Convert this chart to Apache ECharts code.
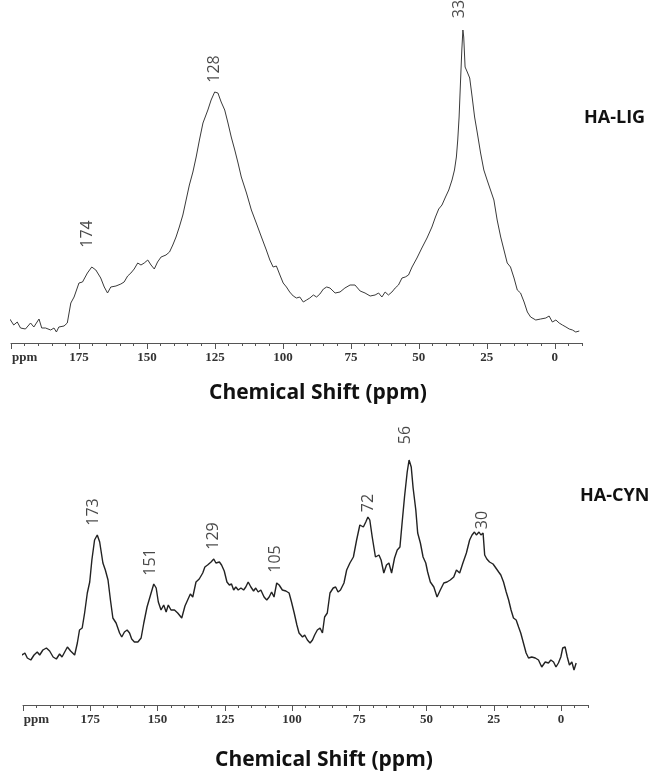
<!DOCTYPE html>
<html>
<head>
<meta charset="utf-8">
<script src="https://cdn.jsdelivr.net/npm/echarts@6/dist/echarts.min.js"></script>
<style>
html,body{margin:0;padding:0;background:#fff;}
#chart{width:660px;height:774px;}
</style>
</head>
<body>
<div id="chart"></div>
<script>
// ---- HA-LIG spectrum: [chemical shift (ppm), intensity (a.u.)]
var ligSpectrum = [
[201.4,27],[200.2,23],[199.0,18],[197.7,21],[196.5,15],[194.7,14],[192.8,20],[191.6,16],[189.7,24],[188.7,15],
[187.3,15],[185.4,13],[184.2,15],[183.3,11],[182.4,16],[180.5,17],[179.3,20],[178.0,40],[176.8,46],[175.0,60],
[173.7,61],[171.9,70],[170.3,76],[168.8,73],[167.0,65],[165.7,56],[164.5,50],[163.3,56],[161.4,57],[159.6,59],
[158.4,61],[157.1,67],[155.9,70],[154.7,74],[153.4,80],[152.2,78],[151.0,80],[149.7,83],[148.5,78],[147.3,74],
[146.1,81],[144.8,86],[143.0,88],[141.7,91],[140.5,98],[139.3,106],[138.1,116],[136.8,128],[135.6,143],[134.4,158],
[133.1,171],[131.9,186],[130.7,203],[129.4,220],[127.6,233],[126.4,243],[125.1,251],[123.9,250],[122.7,241],[121.4,233],
[120.2,220],[119.0,206],[117.7,193],[116.5,180],[115.3,166],[113.4,150],[111.6,133],[109.8,120],[107.9,106],[106.1,93],
[104.8,83],[103.6,76],[102.4,77],[101.1,68],[99.9,60],[98.7,56],[97.5,51],[96.2,47],[95.0,45],[93.8,46],
[92.5,41],[91.3,43],[90.1,45],[88.8,48],[87.6,46],[86.4,49],[85.1,54],[83.9,56],[82.7,55],[80.8,50],
[79.0,51],[77.2,55],[75.3,58],[73.5,58],[71.6,52],[69.8,50],[67.9,47],[66.1,48],[64.8,50],[63.6,46],
[62.4,51],[61.2,48],[59.9,51],[58.7,55],[57.5,58],[56.2,65],[55.0,66],[53.8,68],[52.5,76],[50.7,85],
[48.9,95],[47.0,105],[45.2,116],[43.9,126],[42.7,134],[41.5,138],[40.2,146],[39.0,153],[37.8,163],[36.9,173],
[36.2,186],[35.7,203],[35.2,226],[34.7,260],[34.2,293],[33.8,313],[33.5,306],[33.0,276],[32.2,271],[31.3,265],
[30.4,246],[29.5,226],[28.5,210],[27.3,190],[26.1,173],[24.9,163],[23.4,151],[22.4,143],[21.2,123],[19.9,106],
[18.7,93],[17.5,80],[16.3,76],[15.0,65],[13.8,53],[12.6,50],[11.3,41],[10.1,31],[8.9,26],[7.0,23],
[5.2,24],[3.3,25],[2.1,27],[0.9,21],[-0.4,23],[-1.6,20],[-2.8,18],[-4.1,16],[-5.3,14],[-6.5,13],
[-7.7,11],[-9.0,12]
];

// ---- HA-CYN spectrum: [chemical shift (ppm), intensity (a.u.)]
var cynSpectrum = [
[202.4,53],[201.2,54],[200.3,50],[199.3,52],[198.4,47],[197.1,45],[195.9,50],[194.7,53],[193.8,50],[192.6,55],
[191.3,57],[190.1,54],[188.8,48],[187.6,46],[186.4,51],[185.5,48],[184.5,53],[183.5,58],[182.3,54],[180.8,50],
[179.8,62],[179.0,75],[178.0,77],[177.1,92],[176.1,112],[175.2,123],[174.4,145],[173.4,165],[172.4,170],[171.5,163],
[170.3,142],[169.4,135],[168.4,125],[167.5,105],[166.6,87],[165.4,82],[164.1,72],[163.3,68],[162.3,73],[161.3,75],
[160.4,72],[159.6,66],[158.6,63],[157.3,63],[156.1,67],[155.1,82],[153.9,98],[152.6,110],[151.4,121],[150.5,117],
[149.7,103],[148.7,95],[147.7,100],[146.8,93],[146.0,100],[145.0,95],[143.7,95],[142.5,92],[141.0,87],[139.8,99],
[138.8,105],[137.8,111],[136.9,108],[135.7,123],[134.5,126],[133.2,132],[132.4,138],[131.4,140],[130.1,143],[129.1,146],
[128.3,142],[127.0,143],[126.2,140],[125.2,134],[124.2,123],[123.3,120],[122.5,121],[121.7,115],[120.9,118],[120.0,115],
[119.0,117],[118.0,115],[117.2,118],[116.3,123],[115.3,118],[114.3,114],[113.5,117],[112.6,113],[111.6,115],[110.4,108],
[109.4,105],[108.5,108],[107.6,113],[106.7,108],[105.7,122],[104.8,120],[103.6,115],[102.3,114],[101.1,112],[100.2,103],
[99.2,92],[98.2,80],[97.4,72],[96.1,68],[95.3,70],[94.3,65],[93.3,62],[92.4,65],[91.6,70],[90.6,75],
[89.6,77],[88.7,72],[87.9,88],[86.9,92],[85.9,112],[84.7,117],[83.8,118],[82.9,113],[82.0,115],[80.7,122],
[79.7,135],[78.5,142],[77.2,148],[76.0,165],[74.8,180],[73.5,178],[72.6,183],[71.8,188],[71.1,185],[70.2,168],
[69.0,148],[67.7,150],[66.9,145],[65.9,132],[64.9,140],[64.0,142],[63.0,132],[61.9,147],[60.9,155],[59.9,158],
[59.1,182],[58.2,208],[57.2,233],[56.5,245],[55.7,238],[55.0,217],[54.0,195],[53.3,172],[52.3,162],[51.3,148],
[50.3,142],[49.6,133],[48.6,123],[47.3,118],[46.1,108],[44.9,115],[43.6,122],[42.4,123],[41.2,125],[39.9,128],
[38.9,135],[37.7,132],[36.5,142],[35.2,152],[34.0,165],[33.1,170],[32.2,173],[31.5,170],[30.5,173],[29.8,170],
[29.0,172],[28.4,150],[27.6,146],[26.6,143],[25.3,141],[24.5,138],[23.2,133],[22.4,130],[21.4,123],[20.4,113],
[19.5,105],[18.6,95],[17.7,87],[16.7,85],[15.8,78],[15.0,72],[14.0,62],[13.0,52],[12.1,47],[10.9,48],
[9.6,47],[8.4,45],[7.2,38],[5.9,43],[4.7,42],[3.8,45],[2.8,43],[1.9,38],[1.0,42],[0.1,48],
[-0.6,57],[-1.5,58],[-2.3,48],[-3.1,40],[-4.0,43],[-4.8,35],[-5.6,42]
];

// ---- peak annotations: label, ppm position, intensity position
var ligPeakNames = ['174', '128', '33'];
var ligPeakPpm   = [172.0, 125.1, 35.1];
var ligPeakInt   = [109, 274, 334];

var cynPeakNames = ['173', '151', '129', '105', '72', '56', '30'];
var cynPeakPpm   = [173.9, 152.8, 129.4, 106.0, 71.6, 57.8, 29.3];
var cynPeakInt   = [193, 143, 169, 146, 202, 270, 185];

// ---- axis ticks
var majorTicks = [200, 175, 150, 125, 100, 75, 50, 25, 0];
var tickLabels = [195, 175, 150, 125, 100, 75, 50, 25, 0];
var unitLabelAt = 195;   // position of the "ppm" unit label

var sampleNames = ['HA-LIG', 'HA-CYN'];
var axisTitle = 'Chemical Shift (ppm)';

var AX = '#555';
function minorAxis(g) {
  return {
    gridIndex: g, type: 'value', position: 'bottom', offset: 0,
    inverse: true, min: -10, max: 200, interval: 5,
    axisLine: {show: true, onZero: false, lineStyle: {color: AX, width: 1}},
    axisTick: {show: true, length: 3, lineStyle: {color: AX, width: 1}},
    axisLabel: {show: false},
    splitLine: {show: false}
  };
}
function majorAxis(g) {
  return {
    gridIndex: g, type: 'value', position: 'bottom', offset: 0,
    inverse: true, min: -10, max: 200,
    axisLine: {show: false, onZero: false},
    axisTick: {show: true, length: 6, customValues: majorTicks, lineStyle: {color: AX, width: 1}},
    axisLabel: {
      show: true, customValues: tickLabels, margin: 8,
      fontFamily: 'Liberation Serif', fontWeight: 'bold', fontSize: 13, color: '#333',
      formatter: function (v) { return v === unitLabelAt ? 'ppm' : String(v); }
    },
    splitLine: {show: false}
  };
}
function peakSeries(names, ppm, ints, xi, yi) {
  return {
    type: 'scatter', xAxisIndex: xi, yAxisIndex: yi, symbolSize: 1, clip: false,
    itemStyle: {color: 'rgba(0,0,0,0)'}, silent: true,
    data: names.map(function (n, i) { return {name: n, value: [ppm[i], ints[i]]}; }),
    label: {
      show: true, position: 'inside', rotate: 90, formatter: '{b}',
      fontFamily: 'Open Sans', fontSize: 16, color: '#1a1a1a', align: 'center', verticalAlign: 'middle'
    }
  };
}

var chart = echarts.init(document.getElementById('chart'), null, {renderer: 'canvas'});
chart.setOption({
  backgroundColor: '#fff',
  animation: false,
  title: [
    {text: axisTitle, left: 204, top: 378, textStyle: {fontFamily: 'Open Sans', fontWeight: 'bold', fontSize: 21, color: '#111'}},
    {text: axisTitle, left: 210, top: 745, textStyle: {fontFamily: 'Open Sans', fontWeight: 'bold', fontSize: 21, color: '#111'}},
    {text: sampleNames[0], left: 579, top: 104, textStyle: {fontFamily: 'Open Sans', fontWeight: 'bold', fontSize: 18, color: '#111'}},
    {text: sampleNames[1], left: 575, top: 482, textStyle: {fontFamily: 'Open Sans', fontWeight: 'bold', fontSize: 18, color: '#111'}}
  ],
  grid: [
    {left: 11, right: 78, top: 0, bottom: 431, containLabel: false, outerBoundsMode: 'none'},
    {left: 23, right: 72, top: 400, bottom: 69, containLabel: false, outerBoundsMode: 'none'}
  ],
  xAxis: [minorAxis(0), majorAxis(0), minorAxis(1), majorAxis(1)],
  yAxis: [
    {gridIndex: 0, type: 'value', min: 0, max: 343, show: false},
    {gridIndex: 1, type: 'value', min: 0, max: 305, show: false}
  ],
  series: [
    {type: 'line', xAxisIndex: 0, yAxisIndex: 0, data: ligSpectrum, showSymbol: false, clip: false,
     smooth: false, lineStyle: {color: '#3a3a3a', width: 1}},
    {type: 'line', xAxisIndex: 2, yAxisIndex: 1, data: cynSpectrum, showSymbol: false, clip: false,
     smooth: false, lineStyle: {color: '#222', width: 1.4}},
    peakSeries(ligPeakNames, ligPeakPpm, ligPeakInt, 0, 0),
    peakSeries(cynPeakNames, cynPeakPpm, cynPeakInt, 2, 1)
  ]
});
</script>
</body>
</html>
